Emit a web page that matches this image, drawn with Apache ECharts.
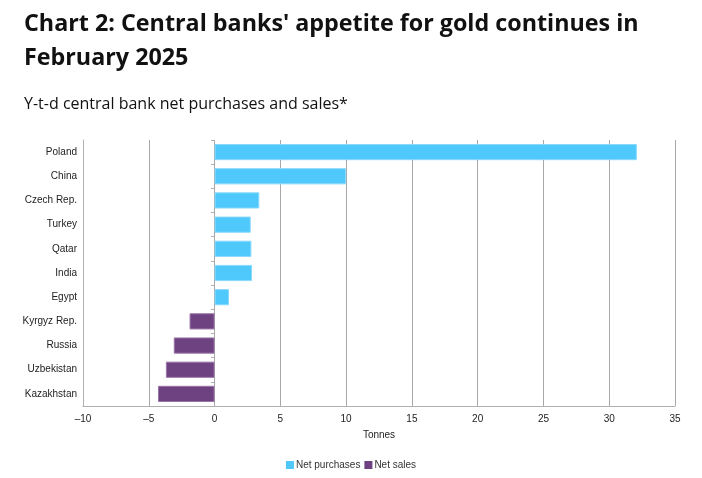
<!DOCTYPE html>
<html>
<head>
<meta charset="utf-8">
<script src="https://cdn.jsdelivr.net/npm/echarts@6/dist/echarts.min.js"></script>
<style>
  html, body { margin: 0; padding: 0; background: #fff; }
  #chart { width: 702px; height: 478px; }
</style>
</head>
<body>
<div id="chart"></div>
<script>
// data (tonnes, y-t-d)
const countries = ["Poland", "China", "Czech Rep.", "Turkey", "Qatar", "India", "Egypt",
  "Kyrgyz Rep.", "Russia", "Uzbekistan", "Kazakhstan"];
const purchases = [32.1, 10.0, 3.4, 2.75, 2.8, 2.85, 1.1, null, null, null, null];
const sales = [null, null, null, null, null, null, null, -1.9, -3.1, -3.7, -4.3];
const xTicks = { min: -10, max: 35, step: 5 };

const myChart = echarts.init(document.getElementById("chart"));
const titleFont = "'Open Sans', 'Noto Sans', sans-serif";
const axisFont = "'Liberation Sans', Arial, sans-serif";

const option = {
  animation: false,
  textStyle: { fontFamily: axisFont },
  title: [
    {
      text: "Chart 2: Central banks' appetite for gold continues in\nFebruary 2025",
      left: 19,
      top: 2,
      textStyle: { fontSize: 23.3, fontWeight: "bold", color: "#111", lineHeight: 34, fontFamily: titleFont }
    },
    {
      text: "Y-t-d central bank net purchases and sales*",
      left: 19,
      top: 91,
      textStyle: { fontSize: 16, fontWeight: "normal", color: "#111", fontFamily: titleFont }
    }
  ],
  legend: {
    bottom: 3,
    left: "center",
    itemWidth: 8,
    itemHeight: 8,
    itemGap: 4,
    icon: "rect",
    itemStyle: { borderWidth: 0 },
    textStyle: { fontSize: 10, color: "#333", padding: [0, 0, 0, -3], fontFamily: axisFont },
    data: ["Net purchases", "Net sales"]
  },
  grid: { left: 83, right: 27, top: 140, bottom: 72 },
  xAxis: {
    type: "value",
    min: xTicks.min,
    max: xTicks.max,
    interval: xTicks.step,
    name: "Tonnes",
    nameLocation: "middle",
    nameGap: 24,
    nameTextStyle: { fontSize: 10, color: "#222", fontFamily: axisFont },
    axisLine: { show: true, lineStyle: { color: "#b0b0b0" } },
    axisTick: { show: false },
    axisLabel: {
      fontSize: 10,
      color: "#222",
      margin: 8,
      fontFamily: axisFont,
      formatter: v => (v < 0 ? "\u2013" + Math.abs(v) : String(v))
    },
    splitLine: { show: true, lineStyle: { color: "#a8a8a8", width: 1 } }
  },
  yAxis: [
    {
      type: "category",
      inverse: true,
      data: countries,
      axisLine: { show: true, onZero: false, lineStyle: { color: "#b0b0b0" } },
      axisTick: { show: false },
      axisLabel: { fontSize: 10, color: "#222", margin: 6, fontFamily: axisFont }
    },
    {
      type: "category",
      inverse: true,
      position: "left",
      offset: -131,
      data: countries,
      axisLine: { show: false, onZero: false },
      axisTick: { show: true, length: 3, lineStyle: { color: "#b0b0b0" } },
      axisLabel: { show: false }
    }
  ],
  series: [
    {
      name: "Net purchases",
      type: "bar",
      stack: "total",
      barWidth: "67%",
      data: purchases,
      itemStyle: { color: "#4fc8fc", borderColor: "#8adafd", borderWidth: 1 }
    },
    {
      name: "Net sales",
      type: "bar",
      stack: "total",
      barWidth: "67%",
      data: sales,
      itemStyle: { color: "#6e4281", borderColor: "#9a76a8", borderWidth: 1 }
    }
  ]
};
myChart.setOption(option);
</script>
</body>
</html>
